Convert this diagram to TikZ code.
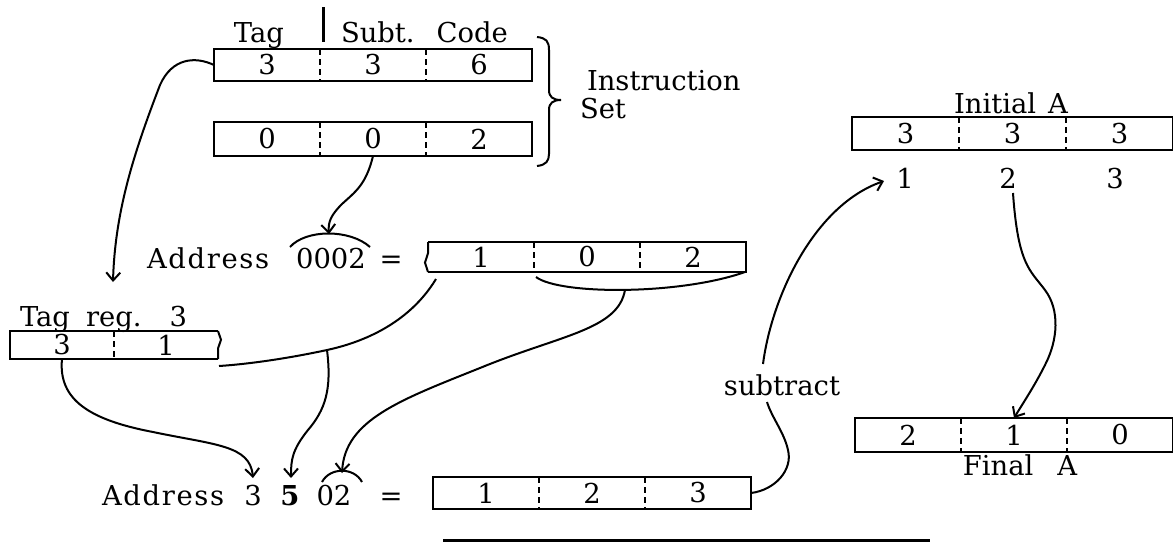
\documentclass[tikz,border=0pt]{standalone}
\usepackage{fontspec}
\setmainfont{DejaVu Serif}
\usepackage{tikz}
\usetikzlibrary{arrows.meta,positioning,decorations.pathmorphing}

\begin{document}
\begin{tikzpicture}[x=0.5pt,y=-0.5pt]

\tikzstyle{every node}=[inner sep=0pt,outer sep=0pt,font=\fontsize{13.7}{16}\selectfont];

\tikzset{cell/.style={minimum width=53pt,minimum height=16pt},
  wide/.style={font=\fontsize{13.7}{16}\selectfont\addfontfeatures{LetterSpace=6}},
  regline/.style={line width=1pt},
  divider/.style={line width=0.6pt,dash pattern=on 3pt off 2pt},
  link/.style={line width=1pt},
  tip/.style={-{Straight Barb[length=4pt,width=7pt]}}};

\useasboundingbox (0,0) rectangle (1173,542);

% Instruction set
\node (tag) at (259,42) [anchor=base] {Tag};
\node (subt) at (341,42) [anchor=base west] {Subt.\hspace{11pt}Code};
\coordinate (bartop) at (323,7);
\coordinate (barbot) at (323,42);
\draw[line width=1.5pt] (bartop) -- (barbot);

\node[cell,anchor=north west] (sa1) at (214,49) {3};
\node[cell,right=0pt of sa1] (sa2) {3};
\node[cell,right=0pt of sa2] (sa3) {6};

\node[cell,anchor=north west,minimum height=17pt] (sb1) at (214,122) {0};
\node[cell,minimum height=17pt,right=0pt of sb1] (sb2) {0};
\node[cell,minimum height=17pt,right=0pt of sb2] (sb3) {2};

\coordinate (bracetop) at (537,37);
\coordinate (bracetip) at (561,100);
\coordinate (bracebot) at (537,166);
\draw[regline] (bracetop) .. controls (546,38) and (549,41) .. (549,50) -- (549,90)
  .. controls (549,97) and (553,100) .. (bracetip)
  .. controls (553,100) and (549,103) .. (549,110) -- (549,154)
  .. controls (549,161) and (546,165) .. (bracebot);
\node (instr) at (587,90) [anchor=base west] {Instruction};
\node (iset) at (580,118) [anchor=base west] {Set};

% Address 0002
\node[wide] (addra) at (147,268) [anchor=base west] {Address};
\node (z0002) at (331,268) [anchor=base] {0002};
\node (eqa) at (391,268) [anchor=base] {=};
\coordinate (arcal) at (290,247);
\coordinate (arcar) at (370,247);
\coordinate (arcatop) at (329,234);
\draw[link] (arcal) .. controls (306,229) and (350,229) .. (arcar);

\node[cell,anchor=north west,minimum height=15pt] (ma1) at (428,242) {1};
\node[cell,minimum height=15pt,right=0pt of ma1] (ma2) {0};
\node[cell,minimum height=15pt,right=0pt of ma2] (ma3) {2};
\draw[regline] (ma1.north west) -- (ma3.north east) -- (ma3.south east) -- (ma1.south west);
\draw[regline,decorate,decoration={snake,amplitude=1.5pt,segment length=15pt}] (ma1.south west) -- (ma1.north west);
\draw[divider] (ma1.north east) -- (ma1.south east) (ma2.north east) -- (ma2.south east);

% Tag register
\node (tagreg) at (20,326) [anchor=base west] {Tag\hspace{8pt}reg.\hspace{14pt}3};
\node[cell,anchor=north west,minimum width=52pt,minimum height=14pt] (tr1) at (10,331) {3};
\node[cell,minimum width=52pt,minimum height=14pt,right=0pt of tr1] (tr2) {1};
\draw[regline] (tr2.north east) -- (tr1.north west) -- (tr1.south west) -- (tr2.south east);
\draw[regline,decorate,decoration={snake,amplitude=1.5pt,segment length=14pt}] (tr2.north east) -- (tr2.south east);
\draw[divider] (tr1.north east) -- (tr1.south east);

% Address 3502
\node[wide] (addrb) at (102,505) [anchor=base west] {Address};
\node (d3) at (253,505) [anchor=base] {3};
\node (d5) at (290,505) [anchor=base] {\textbf{5}};
\node (d02) at (334,505) [anchor=base] {02};
\node (eqb) at (391,505) [anchor=base] {=};
\coordinate (arcbl) at (322,482);
\coordinate (arcbr) at (362,482);
\coordinate (arcbtop) at (342,473);
\draw[link] (arcbl) .. controls (330,467) and (354,467) .. (arcbr);

\node[cell,anchor=north west] (mb1) at (433,477) {1};
\node[cell,right=0pt of mb1] (mb2) {2};
\node[cell,right=0pt of mb2] (mb3) {3};

% Accumulator
\node (initial) at (1011,113) [anchor=base] {Initial\hspace{6pt}A};
\node[cell,anchor=north west,minimum width=53.5pt,minimum height=16.5pt] (ia1) at (852,117) {3};
\node[cell,minimum width=53.5pt,minimum height=16.5pt,right=0pt of ia1] (ia2) {3};
\node[cell,minimum width=53.5pt,minimum height=16.5pt,right=0pt of ia2] (ia3) {3};
\node (one) at (905,188) [anchor=base] {1};
\node (two) at (1008,188) [anchor=base] {2};
\node (three) at (1115,188) [anchor=base] {3};

\node (subtract) at (782,395) [anchor=base] {subtract};

\node[cell,anchor=north west,minimum height=17pt] (fa1) at (855,418) {2};
\node[cell,minimum height=17pt,right=0pt of fa1] (fa2) {1};
\node[cell,minimum height=17pt,right=0pt of fa2] (fa3) {0};
\node (final) at (1020,475) [anchor=base] {Final\hspace{12pt}A};

\foreach \r in {sa,sb,mb,ia,fa} {
  \draw[regline] (\r1.north west) rectangle (\r3.south east);
  \draw[divider] (\r1.north east) -- (\r1.south east) (\r2.north east) -- (\r2.south east);
}

% Connectors
\coordinate (tagin) at (113,282);
\coordinate (mal) at (536,277);
\coordinate (mar) at (745,272);
\coordinate (mabot) at (625,290);
\coordinate (mafrom) at (436,279);
\coordinate (fork) at (327,350);
\coordinate (trend) at (219,366);
\coordinate (d3top) at (253,478);
\coordinate (d5top) at (291,478);
\coordinate (subbot) at (767,402);
\coordinate (subtop) at (763,364);
\coordinate (onein) at (884,181);
\coordinate (twoout) at (1013,193);

\draw[link,tip] (sa1.west) .. controls (195,56) and (172,58) .. (160,85) .. controls (135,150) and (115,210) .. (tagin);
\draw[link,tip] (sb2.south) .. controls (366,185) and (355,192) .. (342,204) .. controls (331,215) and (328,222) .. (arcatop);
\draw[link] (mal) .. controls (560,295) and (680,295) .. (mar);
\draw[link,tip] (mabot) .. controls (618,330) and (560,335) .. (480,368) .. controls (400,400) and (345,420) .. (arcbtop);
\draw[link] (mafrom) .. controls (405,330) and (350,345) .. (fork) .. controls (290,358) and (250,364) .. (trend);
\draw[link,tip] (fork) .. controls (332,390) and (325,410) .. (308,430) .. controls (292,450) and (291,460) .. (d5top);
\draw[link,tip] (tr1.south) .. controls (58,400) and (90,420) .. (153,432) .. controls (215,445) and (250,445) .. (d3top);
\draw[link] (mb3.east) .. controls (775,490) and (793,470) .. (788,450) .. controls (784,432) and (772,418) .. (subbot);
\draw[link,tip] (subtop) .. controls (772,295) and (815,205) .. (onein);
\draw[link,tip] (twoout) .. controls (1018,265) and (1030,270) .. (1045,290) .. controls (1060,310) and (1058,340) .. (1045,365) .. controls (1035,385) and (1025,400) .. (fa2.north);

\coordinate (rulel) at (443,540);
\coordinate (ruler) at (930,540);
\draw[line width=1.5pt] (rulel) -- (ruler);

\end{tikzpicture}
\end{document}
